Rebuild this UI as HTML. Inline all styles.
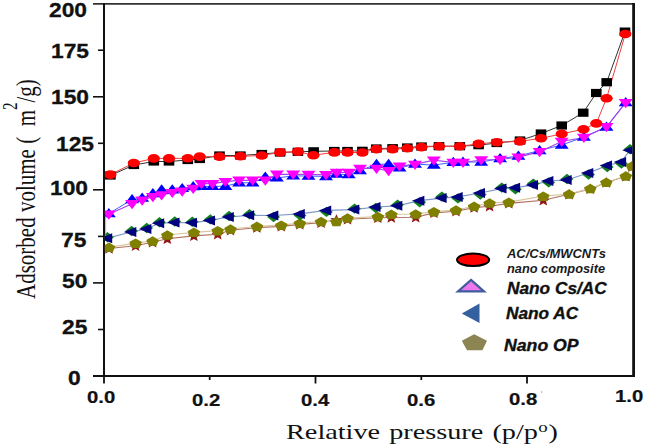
<!DOCTYPE html>
<html><head><meta charset="utf-8"><style>
html,body{margin:0;padding:0;background:#fff;}
body{width:646px;height:448px;overflow:hidden;position:relative;font-family:"Liberation Sans",sans-serif;}
svg{position:absolute;left:0;top:0;}
.t{position:absolute;white-space:nowrap;line-height:1;transform-origin:0 0;color:#111;}
.yl{font-weight:bold;font-size:20px;-webkit-text-stroke:0.3px #111;}
.xl{font-weight:bold;font-size:16.4px;-webkit-text-stroke:0.2px #111;}
.lg{font-weight:bold;font-style:italic;-webkit-text-stroke:0.35px #111;}
.ser{font-family:"Liberation Serif",serif;}
</style></head><body>
<svg width="646" height="448" viewBox="0 0 646 448">
<g stroke="#111" fill="none">
<path d="M93 3.9H634.5" stroke-width="1.6" stroke="#333"/>
<path d="M104 3V377" stroke-width="2"/>
<path d="M93 376H634" stroke-width="2"/>
<path d="M633.6 3V377" stroke-width="2.8"/>
<path d="M93 96.8H104" stroke-width="1.6"/>
<path d="M93 189.8H104" stroke-width="1.6"/>
<path d="M93 282.9H104" stroke-width="1.6"/>
<path d="M98 50.2H104" stroke-width="1.6"/>
<path d="M98 143.3H104" stroke-width="1.6"/>
<path d="M98 236.4H104" stroke-width="1.6"/>
<path d="M98 329.5H104" stroke-width="1.6"/>
<path d="M104.0 376V383.5" stroke-width="1.8"/>
<path d="M209.7 376V380.0" stroke-width="1.8"/>
<path d="M315.5 376V383.5" stroke-width="1.8"/>
<path d="M421.3 376V380.0" stroke-width="1.8"/>
<path d="M527.0 376V383.5" stroke-width="1.8"/>
</g>
<defs><clipPath id="c"><rect x="104.8" y="0" width="527.5" height="375"/></clipPath></defs>
<g clip-path="url(#c)">
<polyline points="109.0,248.5 135.6,245.7 152.6,242.2 167.3,238.8 193.9,235.9 217.7,234.2 230.5,230.2 256.9,227.6 281.3,226.4 299.8,224.4 321.1,222.7 336.4,219.5 347.5,219.3 377.8,217.8 391.3,217.5 415.7,217.2 433.9,212.9 456.0,211.2 474.1,207.6 489.6,206.2 508.8,203.4 543.3,200.2 569.1,194.3 590.3,188.9 606.3,182.6 625.8,176.4 632.0,166.3" fill="none" stroke="#b07060" stroke-width="1.1"/>
<polyline points="109.0,247.3 135.6,243.2 152.6,241.0 167.3,235.0 193.9,232.4 217.7,230.7 230.5,229.0 256.9,226.4 281.3,225.2 299.8,223.2 321.1,221.5 336.4,221.5 347.5,218.1 377.8,216.6 391.3,214.3 415.7,214.0 433.9,211.7 456.0,210.0 474.1,206.4 489.6,203.0 508.8,202.2 543.3,196.2 569.1,194.0 590.3,188.6 606.3,182.3 625.8,176.1 632.0,166.0" fill="none" stroke="#d8c8a0" stroke-width="1.2"/>
<g fill="#901818"><polygon points="109.0,243.2 110.7,246.9 115.3,247.2 111.8,249.8 112.9,253.7 109.0,251.6 105.1,253.7 106.2,249.8 102.7,247.2 107.3,246.9"/><polygon points="135.6,240.4 137.3,244.1 141.9,244.4 138.4,247.0 139.5,250.9 135.6,248.8 131.7,250.9 132.8,247.0 129.3,244.4 133.9,244.1"/><polygon points="152.6,236.9 154.3,240.6 158.9,240.9 155.4,243.5 156.5,247.4 152.6,245.3 148.7,247.4 149.8,243.5 146.3,240.9 150.9,240.6"/><polygon points="167.3,233.5 169.0,237.2 173.6,237.5 170.1,240.1 171.2,244.0 167.3,241.9 163.4,244.0 164.5,240.1 161.0,237.5 165.6,237.2"/><polygon points="193.9,230.6 195.6,234.3 200.2,234.6 196.7,237.2 197.8,241.1 193.9,239.0 190.0,241.1 191.1,237.2 187.6,234.6 192.2,234.3"/><polygon points="217.7,228.9 219.4,232.6 224.0,232.9 220.5,235.5 221.6,239.4 217.7,237.3 213.8,239.4 214.9,235.5 211.4,232.9 216.0,232.6"/><polygon points="230.5,224.9 232.2,228.6 236.8,228.9 233.3,231.5 234.4,235.4 230.5,233.3 226.6,235.4 227.7,231.5 224.2,228.9 228.8,228.6"/><polygon points="256.9,222.3 258.6,226.0 263.2,226.3 259.7,228.9 260.8,232.8 256.9,230.7 253.0,232.8 254.1,228.9 250.6,226.3 255.2,226.0"/><polygon points="281.3,221.1 283.0,224.8 287.6,225.1 284.1,227.7 285.2,231.6 281.3,229.5 277.4,231.6 278.5,227.7 275.0,225.1 279.6,224.8"/><polygon points="299.8,219.1 301.5,222.8 306.1,223.1 302.6,225.7 303.7,229.6 299.8,227.5 295.9,229.6 297.0,225.7 293.5,223.1 298.1,222.8"/><polygon points="321.1,217.4 322.8,221.1 327.4,221.4 323.9,224.0 325.0,227.9 321.1,225.8 317.2,227.9 318.3,224.0 314.8,221.4 319.4,221.1"/><polygon points="336.4,214.2 338.1,217.9 342.7,218.2 339.2,220.8 340.3,224.7 336.4,222.6 332.5,224.7 333.6,220.8 330.1,218.2 334.7,217.9"/><polygon points="347.5,214.0 349.2,217.7 353.8,218.0 350.3,220.6 351.4,224.5 347.5,222.4 343.6,224.5 344.7,220.6 341.2,218.0 345.8,217.7"/><polygon points="377.8,212.5 379.5,216.2 384.1,216.5 380.6,219.1 381.7,223.0 377.8,220.9 373.9,223.0 375.0,219.1 371.5,216.5 376.1,216.2"/><polygon points="391.3,212.2 393.0,215.9 397.6,216.2 394.1,218.8 395.2,222.7 391.3,220.6 387.4,222.7 388.5,218.8 385.0,216.2 389.6,215.9"/><polygon points="415.7,211.9 417.4,215.6 422.0,215.9 418.5,218.5 419.6,222.4 415.7,220.3 411.8,222.4 412.9,218.5 409.4,215.9 414.0,215.6"/><polygon points="433.9,207.6 435.6,211.3 440.2,211.6 436.7,214.2 437.8,218.1 433.9,216.0 430.0,218.1 431.1,214.2 427.6,211.6 432.2,211.3"/><polygon points="456.0,205.9 457.7,209.6 462.3,209.9 458.8,212.5 459.9,216.4 456.0,214.3 452.1,216.4 453.2,212.5 449.7,209.9 454.3,209.6"/><polygon points="474.1,202.3 475.8,206.0 480.4,206.3 476.9,208.9 478.0,212.8 474.1,210.7 470.2,212.8 471.3,208.9 467.8,206.3 472.4,206.0"/><polygon points="489.6,200.9 491.3,204.6 495.9,204.9 492.4,207.5 493.5,211.4 489.6,209.3 485.7,211.4 486.8,207.5 483.3,204.9 487.9,204.6"/><polygon points="508.8,198.1 510.5,201.8 515.1,202.1 511.6,204.7 512.7,208.6 508.8,206.5 504.9,208.6 506.0,204.7 502.5,202.1 507.1,201.8"/><polygon points="543.3,194.9 545.0,198.6 549.6,198.9 546.1,201.5 547.2,205.4 543.3,203.3 539.4,205.4 540.5,201.5 537.0,198.9 541.6,198.6"/><polygon points="569.1,189.0 570.8,192.7 575.4,193.0 571.9,195.6 573.0,199.5 569.1,197.4 565.2,199.5 566.3,195.6 562.8,193.0 567.4,192.7"/><polygon points="590.3,183.6 592.0,187.3 596.6,187.6 593.1,190.2 594.2,194.1 590.3,192.0 586.4,194.1 587.5,190.2 584.0,187.6 588.6,187.3"/><polygon points="606.3,177.3 608.0,181.0 612.6,181.3 609.1,183.9 610.2,187.8 606.3,185.7 602.4,187.8 603.5,183.9 600.0,181.3 604.6,181.0"/><polygon points="625.8,171.1 627.5,174.8 632.1,175.1 628.6,177.7 629.7,181.6 625.8,179.5 621.9,181.6 623.0,177.7 619.5,175.1 624.1,174.8"/><polygon points="632.0,161.0 633.7,164.7 638.3,165.0 634.8,167.6 635.9,171.5 632.0,169.4 628.1,171.5 629.2,167.6 625.7,165.0 630.3,164.7"/></g>
<g fill="#808000"><polygon points="109.0,242.5 115.3,246.2 112.9,252.0 105.1,252.0 102.7,246.2"/><polygon points="135.6,238.4 141.9,242.1 139.5,247.9 131.7,247.9 129.3,242.1"/><polygon points="152.6,236.2 158.9,239.9 156.5,245.7 148.7,245.7 146.3,239.9"/><polygon points="167.3,230.2 173.6,233.9 171.2,239.7 163.4,239.7 161.0,233.9"/><polygon points="193.9,227.6 200.2,231.3 197.8,237.1 190.0,237.1 187.6,231.3"/><polygon points="217.7,225.9 224.0,229.6 221.6,235.4 213.8,235.4 211.4,229.6"/><polygon points="230.5,224.2 236.8,227.9 234.4,233.7 226.6,233.7 224.2,227.9"/><polygon points="256.9,221.6 263.2,225.3 260.8,231.1 253.0,231.1 250.6,225.3"/><polygon points="281.3,220.4 287.6,224.1 285.2,229.9 277.4,229.9 275.0,224.1"/><polygon points="299.8,218.4 306.1,222.1 303.7,227.9 295.9,227.9 293.5,222.1"/><polygon points="321.1,216.7 327.4,220.4 325.0,226.2 317.2,226.2 314.8,220.4"/><polygon points="336.4,216.7 342.7,220.4 340.3,226.2 332.5,226.2 330.1,220.4"/><polygon points="347.5,213.3 353.8,217.0 351.4,222.8 343.6,222.8 341.2,217.0"/><polygon points="377.8,211.8 384.1,215.5 381.7,221.3 373.9,221.3 371.5,215.5"/><polygon points="391.3,209.5 397.6,213.2 395.2,219.0 387.4,219.0 385.0,213.2"/><polygon points="415.7,209.2 422.0,212.9 419.6,218.7 411.8,218.7 409.4,212.9"/><polygon points="433.9,206.9 440.2,210.6 437.8,216.4 430.0,216.4 427.6,210.6"/><polygon points="456.0,205.2 462.3,208.9 459.9,214.7 452.1,214.7 449.7,208.9"/><polygon points="474.1,201.6 480.4,205.3 478.0,211.1 470.2,211.1 467.8,205.3"/><polygon points="489.6,198.2 495.9,201.9 493.5,207.7 485.7,207.7 483.3,201.9"/><polygon points="508.8,197.4 515.1,201.1 512.7,206.9 504.9,206.9 502.5,201.1"/><polygon points="543.3,191.4 549.6,195.1 547.2,200.9 539.4,200.9 537.0,195.1"/><polygon points="569.1,189.2 575.4,192.9 573.0,198.7 565.2,198.7 562.8,192.9"/><polygon points="590.3,183.8 596.6,187.5 594.2,193.3 586.4,193.3 584.0,187.5"/><polygon points="606.3,177.5 612.6,181.2 610.2,187.0 602.4,187.0 600.0,181.2"/><polygon points="625.8,171.3 632.1,175.0 629.7,180.8 621.9,180.8 619.5,175.0"/><polygon points="632.0,161.2 638.3,164.9 635.9,170.7 628.1,170.7 625.7,164.9"/></g>
<polyline points="107.2,238.2 131.3,232.0 146.4,229.0 159.2,223.3 174.5,222.5 192.0,222.8 210.0,220.4 228.8,217.0 249.2,215.3 273.3,215.5 299.8,213.9 326.2,210.4 354.3,209.6 375.5,207.0 397.3,205.8 419.4,200.7 441.6,198.1 457.7,196.9 480.0,193.0 501.5,188.6 515.1,187.7 533.0,185.1 548.4,180.9 566.7,180.0 588.3,173.0 607.0,165.6 621.1,162.0 629.7,150.3" fill="none" stroke="#8098c8" stroke-width="1.2"/>
<g fill="#108020"><polygon points="107.5,232.0 113.9,237.2 107.5,242.4 101.1,237.2"/><polygon points="131.6,225.8 138.0,231.0 131.6,236.2 125.2,231.0"/><polygon points="146.7,222.8 153.1,228.0 146.7,233.2 140.3,228.0"/><polygon points="159.5,217.1 165.9,222.3 159.5,227.5 153.1,222.3"/><polygon points="174.8,216.3 181.2,221.5 174.8,226.7 168.4,221.5"/><polygon points="192.3,216.6 198.7,221.8 192.3,227.0 185.9,221.8"/><polygon points="210.3,214.2 216.7,219.4 210.3,224.6 203.9,219.4"/><polygon points="229.1,210.8 235.5,216.0 229.1,221.2 222.7,216.0"/><polygon points="249.5,209.1 255.9,214.3 249.5,219.5 243.1,214.3"/><polygon points="273.6,211.8 280.0,217.0 273.6,222.2 267.2,217.0"/><polygon points="300.1,210.2 306.5,215.4 300.1,220.6 293.7,215.4"/><polygon points="326.5,206.7 332.9,211.9 326.5,217.1 320.1,211.9"/><polygon points="354.6,203.4 361.0,208.6 354.6,213.8 348.2,208.6"/><polygon points="375.8,202.8 382.2,208.0 375.8,213.2 369.4,208.0"/><polygon points="397.6,199.6 404.0,204.8 397.6,210.0 391.2,204.8"/><polygon points="419.7,197.0 426.1,202.2 419.7,207.4 413.3,202.2"/><polygon points="441.9,191.4 448.3,196.6 441.9,201.8 435.5,196.6"/><polygon points="458.0,193.2 464.4,198.4 458.0,203.6 451.6,198.4"/><polygon points="480.3,189.3 486.7,194.5 480.3,199.7 473.9,194.5"/><polygon points="501.8,182.4 508.2,187.6 501.8,192.8 495.4,187.6"/><polygon points="515.4,184.0 521.8,189.2 515.4,194.4 509.0,189.2"/><polygon points="533.3,178.4 539.7,183.6 533.3,188.8 526.9,183.6"/><polygon points="548.7,177.2 555.1,182.4 548.7,187.6 542.3,182.4"/><polygon points="567.0,173.8 573.4,179.0 567.0,184.2 560.6,179.0"/><polygon points="588.6,169.3 595.0,174.5 588.6,179.7 582.2,174.5"/><polygon points="607.3,161.9 613.7,167.1 607.3,172.3 600.9,167.1"/><polygon points="621.4,158.3 627.8,163.5 621.4,168.7 615.0,163.5"/><polygon points="630.0,144.1 636.4,149.3 630.0,154.5 623.6,149.3"/></g>
<g fill="#000080"><polygon points="99.7,238.2 112.2,233.2 112.2,243.2"/><polygon points="123.8,232.0 136.3,227.0 136.3,237.0"/><polygon points="138.9,229.0 151.4,224.0 151.4,234.0"/><polygon points="151.7,223.3 164.2,218.3 164.2,228.3"/><polygon points="167.0,222.5 179.5,217.5 179.5,227.5"/><polygon points="184.5,222.8 197.0,217.8 197.0,227.8"/><polygon points="202.5,220.4 215.0,215.4 215.0,225.4"/><polygon points="221.3,217.0 233.8,212.0 233.8,222.0"/><polygon points="241.7,215.3 254.2,210.3 254.2,220.3"/><polygon points="265.8,215.5 278.3,210.5 278.3,220.5"/><polygon points="292.3,213.9 304.8,208.9 304.8,218.9"/><polygon points="318.7,210.4 331.2,205.4 331.2,215.4"/><polygon points="346.8,209.6 359.3,204.6 359.3,214.6"/><polygon points="368.0,207.0 380.5,202.0 380.5,212.0"/><polygon points="389.8,205.8 402.3,200.8 402.3,210.8"/><polygon points="411.9,200.7 424.4,195.7 424.4,205.7"/><polygon points="434.1,198.1 446.6,193.1 446.6,203.1"/><polygon points="450.2,196.9 462.7,191.9 462.7,201.9"/><polygon points="472.5,193.0 485.0,188.0 485.0,198.0"/><polygon points="494.0,188.6 506.5,183.6 506.5,193.6"/><polygon points="507.6,187.7 520.1,182.7 520.1,192.7"/><polygon points="525.5,185.1 538.0,180.1 538.0,190.1"/><polygon points="540.9,180.9 553.4,175.9 553.4,185.9"/><polygon points="559.2,180.0 571.7,175.0 571.7,185.0"/><polygon points="580.8,173.0 593.3,168.0 593.3,178.0"/><polygon points="599.5,165.6 612.0,160.6 612.0,170.6"/><polygon points="613.6,162.0 626.1,157.0 626.1,167.0"/><polygon points="622.2,150.3 634.7,145.3 634.7,155.3"/></g>
<polyline points="108.8,213.6 132.1,199.5 142.2,198.0 152.9,193.5 161.6,189.8 172.3,189.8 182.2,188.4 193.2,186.5 201.5,186.4 212.5,186.4 225.4,186.2 239.1,182.8 252.6,182.8 265.3,177.0 276.9,177.9 293.2,175.9 308.5,176.0 326.0,176.5 336.7,174.1 348.7,174.6 360.0,170.5 376.5,164.2 388.6,164.2 399.6,167.9 415.0,164.1 433.8,165.1 453.3,162.3 463.0,162.0 481.2,162.0 500.1,158.6 518.4,156.0 539.6,150.5 561.7,145.0 583.9,137.0 606.5,127.0 625.7,102.5" fill="none" stroke="#4060ff" stroke-width="1"/>
<polyline points="108.8,214.3 132.1,203.7 142.2,200.2 152.9,196.8 161.6,194.9 172.3,192.6 182.2,191.2 193.2,188.4 201.5,183.7 212.5,183.7 225.4,181.6 239.1,180.3 252.6,180.3 265.3,180.3 276.9,174.3 293.2,174.3 308.5,174.4 326.0,174.8 336.7,172.5 348.7,172.5 360.0,168.4 376.5,168.5 388.6,170.8 399.6,166.1 415.0,164.4 433.8,160.2 453.3,162.5 463.0,162.5 481.2,160.0 500.1,159.5 518.4,157.2 539.6,151.7 561.7,141.5 583.9,137.5 606.5,126.8 625.7,102.7" fill="none" stroke="#a040f0" stroke-width="1.2"/>
<g fill="#0000ff"><polygon points="108.8,208.1 115.8,217.3 101.8,217.3"/><polygon points="132.1,194.0 139.1,203.2 125.1,203.2"/><polygon points="142.2,192.5 149.2,201.7 135.2,201.7"/><polygon points="152.9,188.0 159.9,197.2 145.9,197.2"/><polygon points="161.6,184.3 168.6,193.5 154.6,193.5"/><polygon points="172.3,184.3 179.3,193.5 165.3,193.5"/><polygon points="182.2,182.9 189.2,192.1 175.2,192.1"/><polygon points="193.2,181.0 200.2,190.2 186.2,190.2"/><polygon points="201.5,180.9 208.5,190.1 194.5,190.1"/><polygon points="212.5,180.9 219.5,190.1 205.5,190.1"/><polygon points="225.4,180.7 232.4,189.9 218.4,189.9"/><polygon points="239.1,177.3 246.1,186.5 232.1,186.5"/><polygon points="252.6,177.3 259.6,186.5 245.6,186.5"/><polygon points="265.3,171.5 272.3,180.7 258.3,180.7"/><polygon points="276.9,172.4 283.9,181.6 269.9,181.6"/><polygon points="293.2,170.4 300.2,179.6 286.2,179.6"/><polygon points="308.5,170.5 315.5,179.7 301.5,179.7"/><polygon points="326.0,171.0 333.0,180.2 319.0,180.2"/><polygon points="336.7,168.6 343.7,177.8 329.7,177.8"/><polygon points="348.7,169.1 355.7,178.3 341.7,178.3"/><polygon points="360.0,165.0 367.0,174.2 353.0,174.2"/><polygon points="376.5,158.7 383.5,167.9 369.5,167.9"/><polygon points="388.6,158.7 395.6,167.9 381.6,167.9"/><polygon points="399.6,162.4 406.6,171.6 392.6,171.6"/><polygon points="415.0,158.6 422.0,167.8 408.0,167.8"/><polygon points="433.8,159.6 440.8,168.8 426.8,168.8"/><polygon points="453.3,156.8 460.3,166.0 446.3,166.0"/><polygon points="463.0,156.5 470.0,165.7 456.0,165.7"/><polygon points="481.2,156.5 488.2,165.7 474.2,165.7"/><polygon points="500.1,153.1 507.1,162.3 493.1,162.3"/><polygon points="518.4,150.5 525.4,159.7 511.4,159.7"/><polygon points="539.6,145.0 546.6,154.2 532.6,154.2"/><polygon points="561.7,139.5 568.7,148.7 554.7,148.7"/><polygon points="583.9,131.5 590.9,140.7 576.9,140.7"/><polygon points="606.5,121.5 613.5,130.7 599.5,130.7"/><polygon points="625.7,97.0 632.7,106.2 618.7,106.2"/></g>
<g fill="#ff00ff"><polygon points="101.8,210.6 115.8,210.6 108.8,219.8"/><polygon points="125.1,200.0 139.1,200.0 132.1,209.2"/><polygon points="135.2,196.5 149.2,196.5 142.2,205.7"/><polygon points="145.9,193.1 159.9,193.1 152.9,202.3"/><polygon points="154.6,191.2 168.6,191.2 161.6,200.4"/><polygon points="165.3,188.9 179.3,188.9 172.3,198.1"/><polygon points="175.2,187.5 189.2,187.5 182.2,196.7"/><polygon points="186.2,184.7 200.2,184.7 193.2,193.9"/><polygon points="194.5,180.0 208.5,180.0 201.5,189.2"/><polygon points="205.5,180.0 219.5,180.0 212.5,189.2"/><polygon points="218.4,177.9 232.4,177.9 225.4,187.1"/><polygon points="232.1,176.6 246.1,176.6 239.1,185.8"/><polygon points="245.6,176.6 259.6,176.6 252.6,185.8"/><polygon points="258.3,176.6 272.3,176.6 265.3,185.8"/><polygon points="269.9,170.6 283.9,170.6 276.9,179.8"/><polygon points="286.2,170.6 300.2,170.6 293.2,179.8"/><polygon points="301.5,170.7 315.5,170.7 308.5,179.9"/><polygon points="319.0,171.1 333.0,171.1 326.0,180.3"/><polygon points="329.7,168.8 343.7,168.8 336.7,178.0"/><polygon points="341.7,168.8 355.7,168.8 348.7,178.0"/><polygon points="353.0,164.7 367.0,164.7 360.0,173.9"/><polygon points="369.5,164.8 383.5,164.8 376.5,174.0"/><polygon points="381.6,167.1 395.6,167.1 388.6,176.3"/><polygon points="392.6,162.4 406.6,162.4 399.6,171.6"/><polygon points="408.0,160.7 422.0,160.7 415.0,169.9"/><polygon points="426.8,156.5 440.8,156.5 433.8,165.7"/><polygon points="446.3,158.8 460.3,158.8 453.3,168.0"/><polygon points="456.0,158.8 470.0,158.8 463.0,168.0"/><polygon points="474.2,156.3 488.2,156.3 481.2,165.5"/><polygon points="493.1,155.8 507.1,155.8 500.1,165.0"/><polygon points="511.4,153.5 525.4,153.5 518.4,162.7"/><polygon points="532.6,148.0 546.6,148.0 539.6,157.2"/><polygon points="554.7,137.8 568.7,137.8 561.7,147.0"/><polygon points="576.9,133.8 590.9,133.8 583.9,143.0"/><polygon points="599.5,123.1 613.5,123.1 606.5,132.3"/><polygon points="618.7,99.0 632.7,99.0 625.7,108.2"/></g>
<path d="M105.6 216V236" stroke="#c080d8" stroke-width="1" opacity="0.7"/>
<polyline points="110.4,175.5 133.8,165.0 153.8,161.5 169.0,161.5 187.8,160.0 199.7,159.0 219.5,155.5 240.4,155.5 261.8,154.0 280.1,152.5 297.9,151.8 313.6,151.3 334.3,151.0 347.5,151.0 362.4,150.8 376.3,148.5 392.6,148.2 407.3,147.5 421.5,146.5 439.0,146.2 459.8,146.2 478.6,145.2 496.8,143.0 520.0,140.5 541.0,133.5 561.7,125.5 583.2,112.7 596.3,93.0 606.7,82.2 625.0,31.6" fill="none" stroke="#333" stroke-width="1"/>
<polyline points="110.4,174.6 133.8,163.0 153.8,158.4 169.0,158.4 187.8,158.3 199.7,156.6 219.5,156.6 240.4,156.3 261.8,155.5 280.1,152.4 297.9,151.6 313.4,155.2 334.3,152.4 347.5,152.4 362.4,152.5 376.3,149.1 392.6,149.1 407.3,148.3 421.5,147.1 439.0,146.3 459.8,146.3 478.6,143.8 496.8,142.2 520.0,141.4 541.0,138.3 561.7,133.9 583.5,129.2 596.3,123.4 606.6,98.2 625.3,34.0" fill="none" stroke="#f04040" stroke-width="1"/>
<g fill="#000"><rect x="105.1" y="171.4" width="10.6" height="8.2"/><rect x="128.5" y="160.9" width="10.6" height="8.2"/><rect x="148.5" y="157.4" width="10.6" height="8.2"/><rect x="163.7" y="157.4" width="10.6" height="8.2"/><rect x="182.5" y="155.9" width="10.6" height="8.2"/><rect x="194.4" y="154.9" width="10.6" height="8.2"/><rect x="214.2" y="151.4" width="10.6" height="8.2"/><rect x="235.1" y="151.4" width="10.6" height="8.2"/><rect x="256.5" y="149.9" width="10.6" height="8.2"/><rect x="274.8" y="148.4" width="10.6" height="8.2"/><rect x="292.6" y="147.7" width="10.6" height="8.2"/><rect x="308.3" y="147.2" width="10.6" height="8.2"/><rect x="329.0" y="146.9" width="10.6" height="8.2"/><rect x="342.2" y="146.9" width="10.6" height="8.2"/><rect x="357.1" y="146.7" width="10.6" height="8.2"/><rect x="371.0" y="144.4" width="10.6" height="8.2"/><rect x="387.3" y="144.1" width="10.6" height="8.2"/><rect x="402.0" y="143.4" width="10.6" height="8.2"/><rect x="416.2" y="142.4" width="10.6" height="8.2"/><rect x="433.7" y="142.1" width="10.6" height="8.2"/><rect x="454.5" y="142.1" width="10.6" height="8.2"/><rect x="473.3" y="141.1" width="10.6" height="8.2"/><rect x="491.5" y="138.9" width="10.6" height="8.2"/><rect x="514.7" y="136.4" width="10.6" height="8.2"/><rect x="535.7" y="129.4" width="10.6" height="8.2"/><rect x="556.4" y="121.4" width="10.6" height="8.2"/><rect x="577.9" y="108.6" width="10.6" height="8.2"/><rect x="591.0" y="88.9" width="10.6" height="8.2"/><rect x="601.4" y="78.1" width="10.6" height="8.2"/><rect x="619.7" y="27.5" width="10.6" height="8.2"/></g>
<g fill="#ff0000"><ellipse cx="110.4" cy="174.6" rx="6.1" ry="4.3"/><ellipse cx="133.8" cy="163.0" rx="6.1" ry="4.3"/><ellipse cx="153.8" cy="158.4" rx="6.1" ry="4.3"/><ellipse cx="169.0" cy="158.4" rx="6.1" ry="4.3"/><ellipse cx="187.8" cy="158.3" rx="6.1" ry="4.3"/><ellipse cx="199.7" cy="156.6" rx="6.1" ry="4.3"/><ellipse cx="219.5" cy="156.6" rx="6.1" ry="4.3"/><ellipse cx="240.4" cy="156.3" rx="6.1" ry="4.3"/><ellipse cx="261.8" cy="155.5" rx="6.1" ry="4.3"/><ellipse cx="280.1" cy="152.4" rx="6.1" ry="4.3"/><ellipse cx="297.9" cy="151.6" rx="6.1" ry="4.3"/><ellipse cx="313.4" cy="155.2" rx="6.1" ry="4.3"/><ellipse cx="334.3" cy="152.4" rx="6.1" ry="4.3"/><ellipse cx="347.5" cy="152.4" rx="6.1" ry="4.3"/><ellipse cx="362.4" cy="152.5" rx="6.1" ry="4.3"/><ellipse cx="376.3" cy="149.1" rx="6.1" ry="4.3"/><ellipse cx="392.6" cy="149.1" rx="6.1" ry="4.3"/><ellipse cx="407.3" cy="148.3" rx="6.1" ry="4.3"/><ellipse cx="421.5" cy="147.1" rx="6.1" ry="4.3"/><ellipse cx="439.0" cy="146.3" rx="6.1" ry="4.3"/><ellipse cx="459.8" cy="146.3" rx="6.1" ry="4.3"/><ellipse cx="478.6" cy="143.8" rx="6.1" ry="4.3"/><ellipse cx="496.8" cy="142.2" rx="6.1" ry="4.3"/><ellipse cx="520.0" cy="141.4" rx="6.1" ry="4.3"/><ellipse cx="541.0" cy="138.3" rx="6.1" ry="4.3"/><ellipse cx="561.7" cy="133.9" rx="6.1" ry="4.3"/><ellipse cx="583.5" cy="129.2" rx="6.1" ry="4.3"/><ellipse cx="596.3" cy="123.4" rx="6.1" ry="4.3"/><ellipse cx="606.6" cy="98.2" rx="6.1" ry="4.3"/><ellipse cx="625.3" cy="34.0" rx="6.1" ry="4.3"/></g>
</g>
<circle cx="541.6" cy="392" r="0.7" fill="#999"/>
<ellipse cx="473.1" cy="259.8" rx="16.1" ry="6.3" fill="#f00" stroke="#000" stroke-width="2"/>
<polygon points="471,279.9 484,291.4 458,291.4" fill="#ee77ee" stroke="#3f5c9c" stroke-width="2.2"/>
<polygon points="461.8,313.5 479.5,303.5 479.5,323" fill="#3460a0"/>
<polygon points="474.2,334.2 487,340.8 482.4,350.3 467,350.3 461.8,340.8" fill="#8d8453"/>
</svg>
<div class="t yl" style="left:49.1px;top:0.1px;transform:scaleX(1.14)">200</div>
<div class="t yl" style="left:51.0px;top:41.1px;transform:scaleX(1.14)">175</div>
<div class="t yl" style="left:51.0px;top:86.6px;transform:scaleX(1.14)">150</div>
<div class="t yl" style="left:55.7px;top:133.6px;transform:scaleX(1.14)">125</div>
<div class="t yl" style="left:49.9px;top:177.6px;transform:scaleX(1.14)">100</div>
<div class="t yl" style="left:61.1px;top:230.2px;transform:scaleX(1.14)">75</div>
<div class="t yl" style="left:61.5px;top:270.9px;transform:scaleX(1.14)">50</div>
<div class="t yl" style="left:61.5px;top:317.1px;transform:scaleX(1.14)">25</div>
<div class="t yl" style="left:68.3px;top:368.0px;transform:scaleX(1.14)">0</div>
<div class="t xl" style="left:87.4px;top:389.0px;transform:scaleX(1.24)">0.0</div>
<div class="t xl" style="left:192.2px;top:391.5px;transform:scaleX(1.24)">0.2</div>
<div class="t xl" style="left:301.1px;top:391.5px;transform:scaleX(1.24)">0.4</div>
<div class="t xl" style="left:407.0px;top:391.5px;transform:scaleX(1.24)">0.6</div>
<div class="t xl" style="left:509.4px;top:391.1px;transform:scaleX(1.24)">0.8</div>
<div class="t xl" style="left:615.0px;top:388.4px;transform:scaleX(1.24)">1.0</div>
<div class="t ser" id="xt" style="left:285.8px;top:421.9px;font-size:21px;word-spacing:1.5px;transform:scaleX(1.345)">Relative pressure (p/p<span style="font-size:14px;position:relative;top:-7px;margin-left:0.3px;margin-right:0.6px">o</span>)</div>
<div class="t ser" id="yt" style="left:11.5px;top:298.6px;font-size:21px;transform:rotate(-90deg) scaleY(1.34)">Adsorbed volume (&nbsp; m<span style="font-size:15px;position:relative;top:-13px">2</span>/g)</div>
<div class="t lg" style="left:506.9px;top:248.3px;font-size:12px;-webkit-text-stroke:0;color:#1a1a1a;transform:scaleX(1.08)">AC/Cs/MWCNTs</div>
<div class="t lg" style="left:506.9px;top:262.6px;font-size:12px;-webkit-text-stroke:0;color:#1a1a1a;transform:scaleX(1.065)">nano composite</div>
<div class="t lg" style="left:506.9px;top:280.8px;font-size:16.6px;transform:scaleX(1.04)">Nano Cs/AC</div>
<div class="t lg" style="left:506.2px;top:305.4px;font-size:16.3px;transform:scaleX(1.06)">Nano AC</div>
<div class="t lg" style="left:503.6px;top:336.7px;font-size:17px;transform:scaleX(1.04)">Nano OP</div>
</body></html>
